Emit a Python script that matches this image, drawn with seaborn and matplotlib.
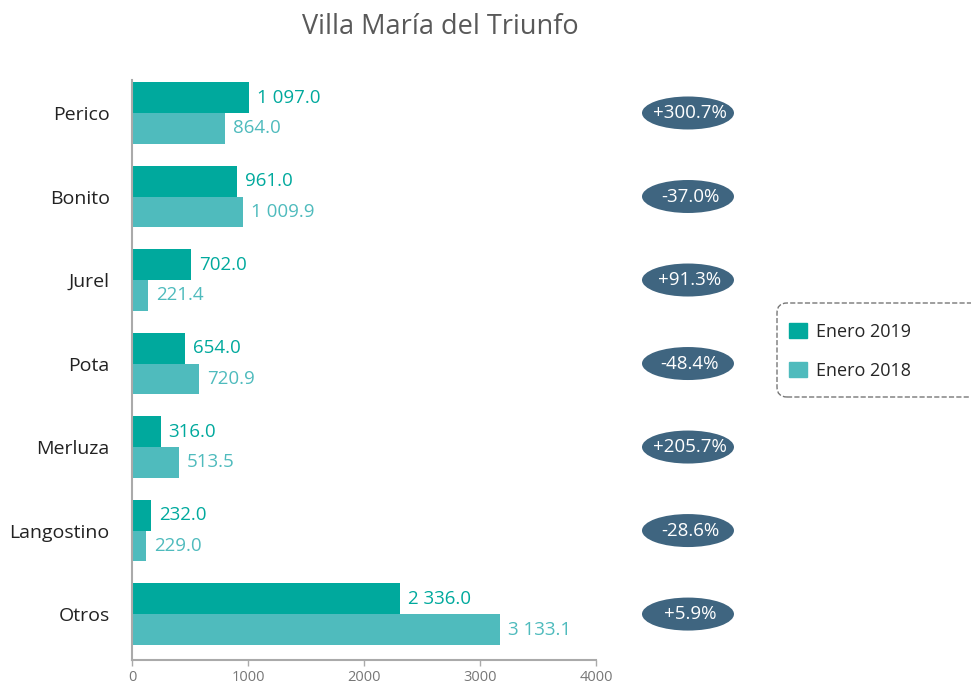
import numpy as np
import pandas as pd
import matplotlib
matplotlib.use('Agg')
import matplotlib.pyplot as plt
import seaborn as sns
from matplotlib.patches import Ellipse, FancyBboxPatch, Patch
from matplotlib.transforms import IdentityTransform

# ================= DADOS =================
especies = ['Perico', 'Bonito', 'Jurel', 'Pota', 'Merluza', 'Langostino', 'Otros']
periodos = ['Enero 2019', 'Enero 2018']

# comprimento das barras tal como aparecem no gráfico
barras_2019 = [1010, 905, 509, 457, 250, 164, 2310]
barras_2018 = [802, 957, 138, 578, 405, 121, 3172]

# rótulos impressos ao lado das barras
etiquetas_2019 = ['1 097.0', '961.0', '702.0', '654.0', '316.0', '232.0', '2 336.0']
etiquetas_2018 = ['864.0', '1 009.9', '221.4', '720.9', '513.5', '229.0', '3 133.1']

variacion = ['+300.7%', '-37.0%', '+91.3%', '-48.4%', '+205.7%', '-28.6%', '+5.9%']

xticks = [0, 1000, 2000, 3000, 4000]

# ================= CONFIGURAÇÕES =================
COR_2019 = '#00a99d'
COR_2018 = '#4fbbbd'
COR_ELIPSE = '#3f6580'
COR_EIXO = '#aaaaaa'

df = pd.DataFrame({
    'especie': especies * 2,
    'periodo': [periodos[0]] * len(especies) + [periodos[1]] * len(especies),
    'valor': barras_2019 + barras_2018,
})

sns.set_theme(style='white')
plt.rcParams['font.family'] = ['Open Sans', 'DejaVu Sans']

fig = plt.figure(figsize=(9.71, 6.84), dpi=100)
ax = fig.add_axes([132 / 971, 24 / 684, 464 / 971, 580 / 684])

sns.barplot(data=df, y='especie', x='valor', hue='periodo', orient='h',
            palette=[COR_2019, COR_2018], saturation=1, width=0.74,
            linewidth=0, legend=False, ax=ax)

# rótulos de valor
for cont, etiq, cor in zip(ax.containers, [etiquetas_2019, etiquetas_2018], [COR_2019, COR_2018]):
    ax.bar_label(cont, labels=etiq, padding=5.5, color=cor, fontsize=13.5)

ax.set_xlim(0, 4000)
ax.set_ylim(6.55, -0.395)
ax.set_xticks(xticks)
ax.set_xlabel('')
ax.set_ylabel('')

ax.tick_params(axis='y', left=False, length=0, pad=16, labelsize=14, labelcolor='#222222')
ax.tick_params(axis='x', bottom=True, length=4, width=1, color=COR_EIXO,
               labelsize=10.5, labelcolor='#777777', pad=3)

for lado in ['top', 'right']:
    ax.spines[lado].set_visible(False)
for lado in ['left', 'bottom']:
    ax.spines[lado].set_color(COR_EIXO)
    ax.spines[lado].set_linewidth(1.5)

# elipses de variação
for i, txt in enumerate(variacion):
    ax.add_patch(Ellipse((4793, i), width=793, height=0.395, facecolor=COR_ELIPSE,
                         edgecolor='none', clip_on=False))
    ax.text(4810, i, txt, ha='center', va='center', color='white',
            fontsize=13.5, clip_on=False)

# legenda
handles = [Patch(color=COR_2019, label=periodos[0]), Patch(color=COR_2018, label=periodos[1])]
fig.legend(handles=handles, loc='upper left', bbox_to_anchor=(789 / 971, 1 - 323 / 684),
           frameon=False, fontsize=13, handlelength=1.0, handleheight=0.9,
           handletextpad=0.5, labelspacing=1.15, borderpad=0, borderaxespad=0)

caixa = FancyBboxPatch((777, 684 - 397), 260, 94, boxstyle='round,pad=0,rounding_size=10',
                       transform=IdentityTransform(), fill=False, linestyle='--',
                       edgecolor='#777777', linewidth=1)
fig.add_artist(caixa)

fig.text(0.453, 1 - 27 / 684, 'Villa María del Triunfo', ha='center', va='center',
         fontsize=19.5, color='#595959')

fig.savefig('out.png', dpi=100)
